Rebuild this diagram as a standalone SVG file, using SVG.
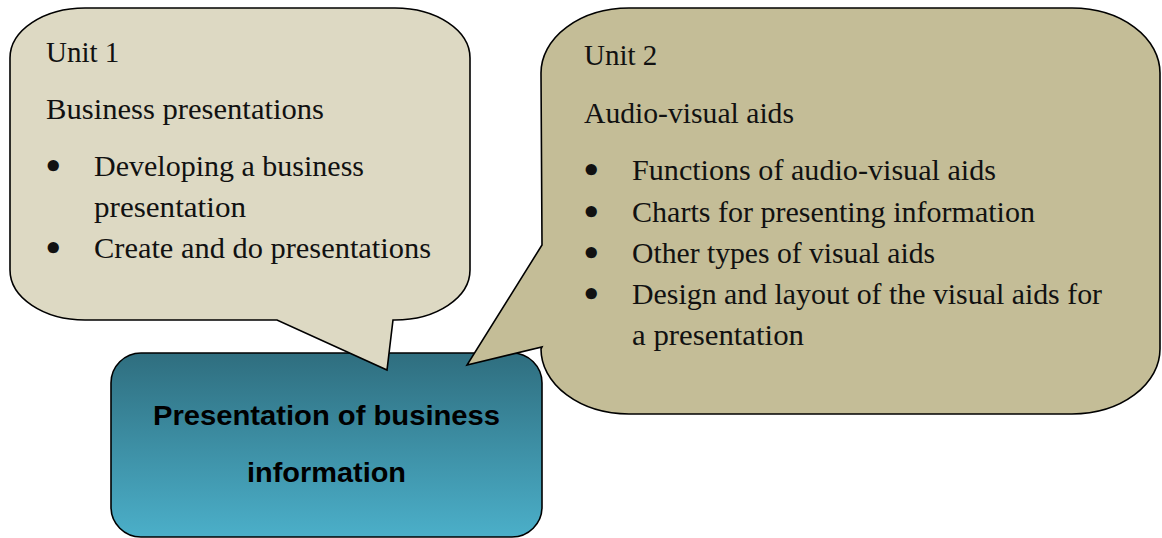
<svg xmlns="http://www.w3.org/2000/svg" width="1162" height="538" viewBox="0 0 1162 538">
  <defs>
    <linearGradient id="teal" x1="0" y1="0" x2="0" y2="1">
      <stop offset="0" stop-color="#2F6E7F"/>
      <stop offset="1" stop-color="#4BAFC9"/>
    </linearGradient>
    <style>
      .shape { stroke: #000; stroke-width: 1.6; stroke-linejoin: miter; }
      .t { font-family: "Liberation Serif", "Times New Roman", serif; font-size: 29px; fill: #111; }
      .b { font-family: "DejaVu Sans", sans-serif; font-size: 32px; font-weight: bold; fill: #111; }
      .h { font-family: "Liberation Sans", Arial, sans-serif; font-size: 28px; font-weight: bold; fill: #000; text-anchor: middle; }
    </style>
  </defs>
  <rect width="1162" height="538" fill="#fff"/>

  <g id="main-topic">
    <rect class="shape" x="111" y="353" width="431" height="184" rx="30" ry="30" fill="url(#teal)"/>
    <text class="h" x="326.5" y="425" textLength="347" lengthAdjust="spacingAndGlyphs">Presentation of business</text>
    <text class="h" x="326.5" y="482" textLength="159" lengthAdjust="spacingAndGlyphs">information</text>
  </g>

  <g id="unit1">
    <path class="shape" fill="#DDD9C3" d="M85,8 H395 A75,50 0 0 1 470,58 V270 A75,50 0 0 1 395,320 L393,320 L387,370 L277,320 H85 A75,50 0 0 1 10,270 V58 A75,50 0 0 1 85,8 Z"/>
    <text class="t" x="46" y="62">Unit 1</text>
    <text class="t" x="46" y="119" textLength="278" lengthAdjust="spacingAndGlyphs">Business presentations</text>
    <text class="b" x="43" y="178">•</text>
    <text class="t" x="94" y="176" textLength="270" lengthAdjust="spacingAndGlyphs">Developing a business</text>
    <text class="t" x="94" y="217" textLength="152" lengthAdjust="spacingAndGlyphs">presentation</text>
    <text class="b" x="43" y="260">•</text>
    <text class="t" x="94" y="258" textLength="337" lengthAdjust="spacingAndGlyphs">Create and do presentations</text>
  </g>

  <g id="unit2">
    <path class="shape" fill="#C4BD97" d="M629,8 H1072 A88,65 0 0 1 1160,73 V349 A88,65 0 0 1 1072,414 H629 A88,65 0 0 1 541,349 L542,347 L467,365 L542,245 L541,73 A88,65 0 0 1 629,8 Z"/>
    <text class="t" x="584" y="65">Unit 2</text>
    <text class="t" x="584" y="123" textLength="210" lengthAdjust="spacingAndGlyphs">Audio-visual aids</text>
    <text class="b" x="581" y="182">•</text>
    <text class="t" x="632" y="180" textLength="364" lengthAdjust="spacingAndGlyphs">Functions of audio-visual aids</text>
    <text class="b" x="581" y="224">•</text>
    <text class="t" x="632" y="222" textLength="403" lengthAdjust="spacingAndGlyphs">Charts for presenting information</text>
    <text class="b" x="581" y="265">•</text>
    <text class="t" x="632" y="263" textLength="303" lengthAdjust="spacingAndGlyphs">Other types of visual aids</text>
    <text class="b" x="581" y="306">•</text>
    <text class="t" x="632" y="304" textLength="470" lengthAdjust="spacingAndGlyphs">Design and layout of the visual aids for</text>
    <text class="t" x="632" y="345" textLength="172" lengthAdjust="spacingAndGlyphs">a presentation</text>
  </g>

  <g id="connectors"/>
</svg>
